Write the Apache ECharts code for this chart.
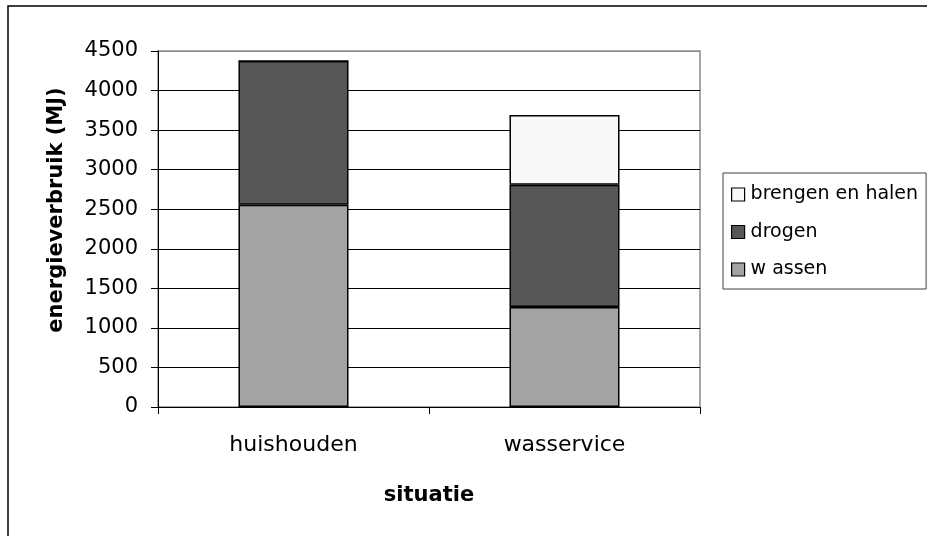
<!DOCTYPE html>
<html>
<head>
<meta charset="utf-8">
<script src="https://cdn.jsdelivr.net/npm/echarts@6/dist/echarts.min.js"></script>
<style>html,body{margin:0;padding:0;background:#fff}#c{width:927px;height:536px}</style>
</head>
<body>
<div id="c"></div>
<script>
const categories = ['huishouden', 'wasservice'];
const wassen = [2555, 1265];
const drogen = [1820, 1545];
const brengenEnHalen = [0, 880];
const yTicks = [0, 500, 1000, 1500, 2000, 2500, 3000, 3500, 4000, 4500];

const chart = echarts.init(document.getElementById('c'), null, {renderer: 'canvas'});
const font = '"DejaVu Sans", "Liberation Sans", sans-serif';
const barStyle = (c) => ({color: c, borderColor: '#000', borderWidth: 1.5});
const splitColors = yTicks.map((v, i) => i === yTicks.length - 1 ? '#8c8c8c' : '#000');

chart.setOption({
  animation: false,
  backgroundColor: '#fff',
  textStyle: {fontFamily: font, color: '#000'},
  graphic: [{
    type: 'rect', shape: {x: 8, y: 6, width: 1000, height: 1000},
    style: {fill: 'none', stroke: '#000', lineWidth: 1.5}, silent: true, z: -10
  }],
  grid: {left: 158, top: 51, right: 227, bottom: 129, show: true, borderColor: '#8c8c8c', borderWidth: 1.5, backgroundColor: 'transparent'},
  legend: {
    orient: 'vertical', left: 723, top: 173,
    data: ['brengen en halen', 'drogen', 'wassen'],
    formatter: (n) => n === 'wassen' ? 'w assen' : n,
    itemWidth: 13, itemHeight: 13, itemGap: 18.5,
    padding: [12, 8, 10, 8],
    borderColor: '#404040', borderWidth: 1,
    textStyle: {fontFamily: font, fontSize: 19, color: '#000', padding: [0, 0, 0, 1]},
    icon: 'rect',
    itemStyle: {borderColor: '#000', borderWidth: 1.2}
  },
  xAxis: {
    type: 'category', data: categories,
    name: 'situatie', nameLocation: 'middle', nameGap: 78,
    nameTextStyle: {fontFamily: font, fontSize: 21, fontWeight: 'bold', color: '#000'},
    axisLine: {lineStyle: {color: '#000', width: 1}},
    axisTick: {show: true, alignWithLabel: false, length: 7, lineStyle: {color: '#000'}},
    axisLabel: {fontFamily: font, fontSize: 22, color: '#000', margin: 27},
    splitLine: {show: false}
  },
  yAxis: {
    type: 'value', min: 0, max: 4500, interval: 500,
    name: 'energieverbruik (MJ)', nameLocation: 'middle', nameGap: 91, nameRotate: 90,
    nameTextStyle: {fontFamily: font, fontSize: 21, fontWeight: 'bold', color: '#000', padding: [0, 0, 0, 38]},
    axisLine: {show: true, lineStyle: {color: '#000', width: 1}},
    axisTick: {show: true, inside: false, length: 7, lineStyle: {color: '#000'}},
    axisLabel: {fontFamily: font, fontSize: 21, color: '#000', margin: 20, formatter: (v) => String(v)},
    splitLine: {show: true, lineStyle: {color: splitColors, width: 1}}
  },
  series: [
    {name: 'wassen', type: 'bar', stack: 't', data: wassen, barWidth: '40.6%', itemStyle: barStyle('#a3a3a3')},
    {name: 'drogen', type: 'bar', stack: 't', data: drogen, barWidth: '40.6%', itemStyle: barStyle('#575757')},
    {name: 'brengen en halen', type: 'bar', stack: 't', data: brengenEnHalen, barWidth: '40.6%', itemStyle: barStyle('#f8f8f8')}
  ]
});
</script>
</body>
</html>
